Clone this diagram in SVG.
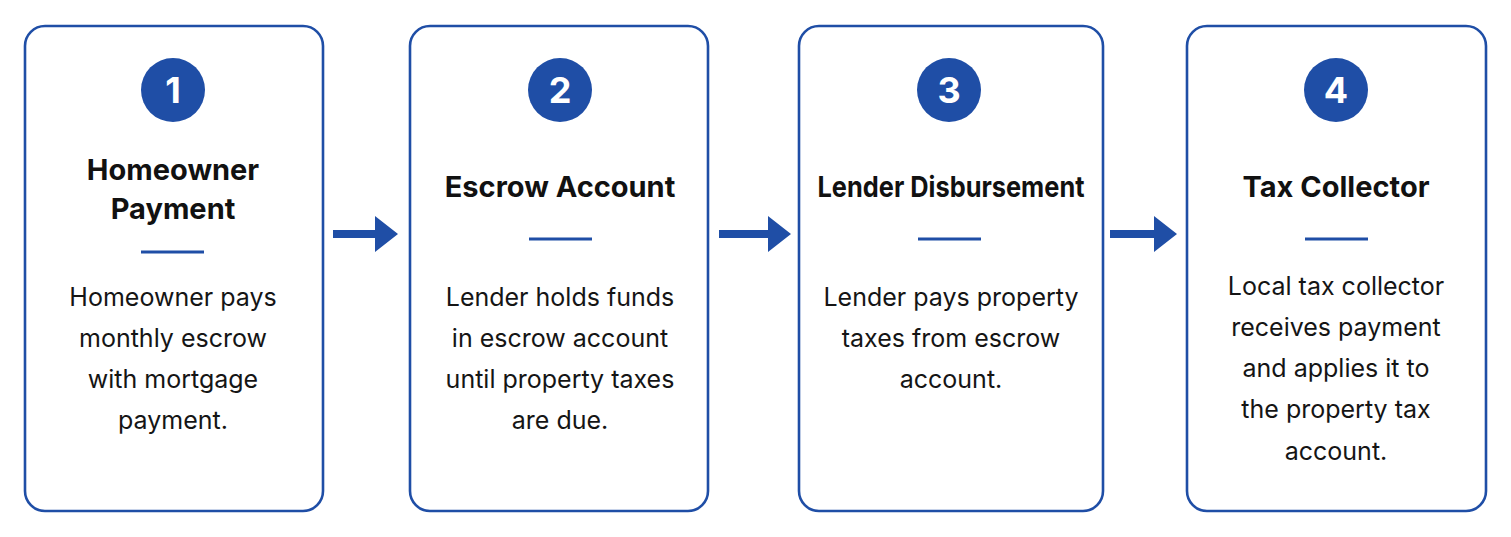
<svg xmlns="http://www.w3.org/2000/svg" width="1511" height="537" viewBox="0 0 1511 537">
<defs>
<style>
.card{fill:#ffffff;stroke:#1f4ea6;stroke-width:2.6}
.badge{fill:#1f4ea6}
.num{font-family:Inter,Roboto,"Liberation Sans",sans-serif;font-weight:700;font-size:36px;fill:#ffffff;text-anchor:middle}
.title{font-family:Inter,Roboto,"Liberation Sans",sans-serif;font-weight:700;font-size:29px;fill:#111111;text-anchor:middle}
.div{stroke:#1f4ea6;stroke-width:3}
.body{font-family:Inter,Roboto,"Liberation Sans",sans-serif;font-size:25px;fill:#151515;text-anchor:middle}
.arrow{fill:#1f4ea6}
</style>
</defs>
<rect width="1511" height="537" fill="#ffffff"/>
<g id="step1">
<rect class="card" x="25" y="26" width="298" height="485" rx="20"/>
<circle class="badge" cx="173" cy="90" r="32"/>
<text class="num" x="173" y="103">1</text>
<text class="title" x="173" y="180">Homeowner</text>
<text class="title" x="173" y="219">Payment</text>
<line class="div" x1="141" y1="252" x2="204" y2="252"/>
<text class="body" x="173" y="306">Homeowner pays</text>
<text class="body" x="173" y="347">monthly escrow</text>
<text class="body" x="173" y="388">with mortgage</text>
<text class="body" x="173" y="429">payment.</text>
</g>
<g id="step2">
<rect class="card" x="410" y="26" width="298" height="485" rx="20"/>
<circle class="badge" cx="560" cy="90" r="32"/>
<text class="num" x="560" y="103">2</text>
<text class="title" x="560" y="197">Escrow Account</text>
<line class="div" x1="529" y1="239" x2="592" y2="239"/>
<text class="body" x="560" y="306">Lender holds funds</text>
<text class="body" x="560" y="347">in escrow account</text>
<text class="body" x="560" y="388">until property taxes</text>
<text class="body" x="560" y="429">are due.</text>
</g>
<g id="step3">
<rect class="card" x="799" y="26" width="304" height="485" rx="20"/>
<circle class="badge" cx="949" cy="90" r="32"/>
<text class="num" x="949" y="103">3</text>
<text class="title" x="951" y="197" textLength="267" lengthAdjust="spacingAndGlyphs">Lender Disbursement</text>
<line class="div" x1="918" y1="239" x2="981" y2="239"/>
<text class="body" x="951" y="306">Lender pays property</text>
<text class="body" x="951" y="347">taxes from escrow</text>
<text class="body" x="951" y="388">account.</text>
</g>
<g id="step4">
<rect class="card" x="1187" y="26" width="299" height="485" rx="20"/>
<circle class="badge" cx="1336" cy="90" r="32"/>
<text class="num" x="1336" y="103">4</text>
<text class="title" x="1336" y="197">Tax Collector</text>
<line class="div" x1="1305" y1="239" x2="1368" y2="239"/>
<text class="body" x="1336" y="295">Local tax collector</text>
<text class="body" x="1336" y="336">receives payment</text>
<text class="body" x="1336" y="377">and applies it to</text>
<text class="body" x="1336" y="418">the property tax</text>
<text class="body" x="1336" y="460">account.</text>
</g>
<g id="connectors">
<polygon class="arrow" points="333,230 375,230 375,216 398,234 375,252 375,238 333,238"/>
<polygon class="arrow" points="719,230 768,230 768,216 791,234 768,252 768,238 719,238"/>
<polygon class="arrow" points="1110,230 1154,230 1154,216 1177,234 1154,252 1154,238 1110,238"/>
</g>
</svg>
